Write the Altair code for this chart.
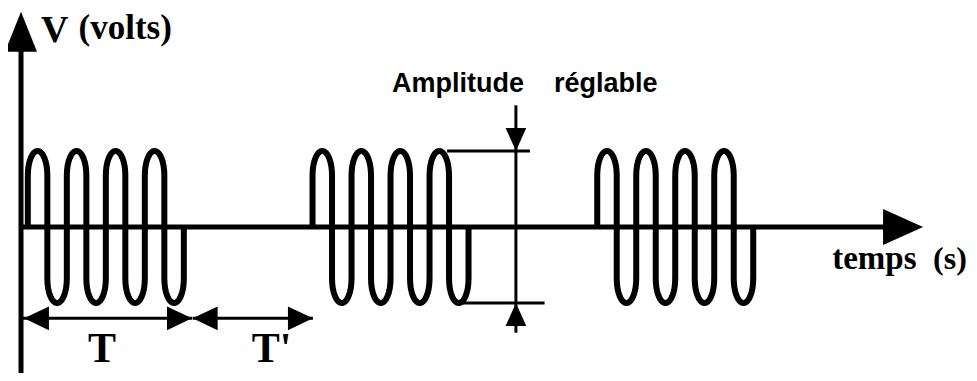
import math
import altair as alt
import pandas as pd

# ---- values (time in carrier half-periods, voltage in volts) ----
burst_start = [0.35, 14.95, 29.55]      # start of each burst
half_cycles_per_burst = 8               # 4 full oscillations per burst
amplitude = 1.0
crest_depth = 0.32                      # height of the rounded crests
T_span = [0.0, 8.77]                    # duration T of one burst
Tp_span = [8.80, 14.97]                 # pause T'
dim_labels = ["T", "T'"]
dim_label_t = [4.15, 12.85]
dim_level = -1.20
amp_marker_t = 25.38
amp_top_line = [21.85, 26.10]
amp_bottom_line = [22.35, 26.85]
amp_marker_span = [1.60, -1.39]
time_axis_end = 46.26
volt_axis_end = 2.83

X_DOMAIN = [-0.667, 48.615]
Y_DOMAIN = [-1.92, 2.88]

xs = alt.Scale(domain=X_DOMAIN, nice=False, zero=False)
ys = alt.Scale(domain=Y_DOMAIN, nice=False, zero=False)


def X(f):
    return alt.X(f"{f}:Q", scale=xs, axis=None)


def Y(f):
    return alt.Y(f"{f}:Q", scale=ys, axis=None)


# ---- waveform bursts ----
rows = []
for b, s in enumerate(burst_start):
    i = 0
    rows.append(dict(burst=b, i=i, t=s, v=0.0))
    i += 1
    for k in range(half_cycles_per_burst):
        sign = 1 if k % 2 == 0 else -1
        x0 = s + k
        for j in range(17):
            th = math.pi * (1 - j / 16)
            rows.append(dict(burst=b, i=i,
                             t=x0 + 0.5 + 0.5 * math.cos(th),
                             v=sign * (amplitude - crest_depth + crest_depth * math.sin(th))))
            i += 1
    rows.append(dict(burst=b, i=i, t=s + half_cycles_per_burst, v=0.0))
wave_df = pd.DataFrame(rows)

wave = alt.Chart(wave_df).mark_line(color="black", strokeWidth=6, strokeJoin="round").encode(
    x=X("t"), y=Y("v"), detail="burst:N", order="i:Q")

# ---- axes ----
axes_df = pd.DataFrame([
    dict(t=0.0, t2=0.0, v=Y_DOMAIN[0], v2=volt_axis_end - 0.5),
    dict(t=0.0, t2=time_axis_end - 1.9, v=0.0, v2=0.0),
])
axes = alt.Chart(axes_df).mark_rule(color="black", strokeWidth=5).encode(
    x=X("t"), x2="t2:Q", y=Y("v"), y2="v2:Q")

# ---- thin annotation lines ----
thin_df = pd.DataFrame([
    dict(t=amp_top_line[0], t2=amp_top_line[1], v=amplitude, v2=amplitude),
    dict(t=amp_bottom_line[0], t2=amp_bottom_line[1], v=-amplitude, v2=-amplitude),
    dict(t=amp_marker_t, t2=amp_marker_t, v=amp_marker_span[0], v2=amp_marker_span[1]),
    dict(t=T_span[0], t2=T_span[1], v=dim_level, v2=dim_level),
    dict(t=Tp_span[0], t2=Tp_span[1], v=dim_level, v2=dim_level),
])
thin = alt.Chart(thin_df).mark_rule(color="black", strokeWidth=3).encode(
    x=X("t"), x2="t2:Q", y=Y("v"), y2="v2:Q")

# ---- arrowheads (tip at the data point) ----
UP_BIG = "M0,0L-0.8,2L0.8,2Z"
RIGHT_BIG = "M0,0L-2,-0.9L-2,0.9Z"
DOWN_SMALL = "M0,0L-0.9,-2L0.9,-2Z"
UP_SMALL = "M0,0L-0.9,2L0.9,2Z"
LEFT_DIM = "M0,0L2,-0.95L2,0.95Z"
RIGHT_DIM = "M0,0L-2,-0.95L-2,0.95Z"


def head(points, path, size):
    df = pd.DataFrame(points, columns=["t", "v"])
    return alt.Chart(df).mark_point(shape=path, size=size, filled=True, color="black",
                                    opacity=1, strokeWidth=0).encode(x=X("t"), y=Y("v"))


heads = [
    head([(0.0, volt_axis_end)], UP_BIG, 1600),
    head([(time_axis_end, 0.0)], RIGHT_BIG, 1600),
    head([(amp_marker_t, amplitude)], DOWN_SMALL, 529),
    head([(amp_marker_t, -amplitude)], UP_SMALL, 529),
    head([(T_span[0] + 0.15, dim_level), (Tp_span[0], dim_level)], LEFT_DIM, 625),
    head([(T_span[1], dim_level), (Tp_span[1], dim_level)], RIGHT_DIM, 625),
]

# ---- texts ----
def text(label, t, v, size, font, align="left"):
    df = pd.DataFrame([dict(label=label, t=t, v=v)])
    return alt.Chart(df).mark_text(font=font, fontSize=size, fontWeight="bold", align=align,
                                   baseline="alphabetic", color="black").encode(
        x=X("t"), y=Y("v"), text="label:N")


SERIF = "Liberation Serif"
SANS = "Liberation Sans"
texts = [
    text("V", 1.03, 2.43, 38, SERIF),
    text("(volts)", 2.95, 2.47, 35, SERIF),
    text("Amplitude", 19.03, 1.77, 27, SANS),
    text("réglable", 27.33, 1.77, 27, SANS),
    text("temps", 41.6, -0.546, 33, SERIF),
    text("(s)", 46.77, -0.546, 32, SERIF),
    text(dim_labels[0], dim_label_t[0], -1.77, 42, SERIF, "center"),
    text(dim_labels[1], dim_label_t[1], -1.77, 42, SERIF, "center"),
]

chart = alt.layer(wave, axes, thin, *heads, *texts).properties(
    width=961, height=365,
    autosize=alt.AutoSizeParams(type="none"),
    padding=0,
    background="white",
).configure_view(stroke=None)

chart.save("out.html", embed_options={"renderer": "svg", "actions": False})
